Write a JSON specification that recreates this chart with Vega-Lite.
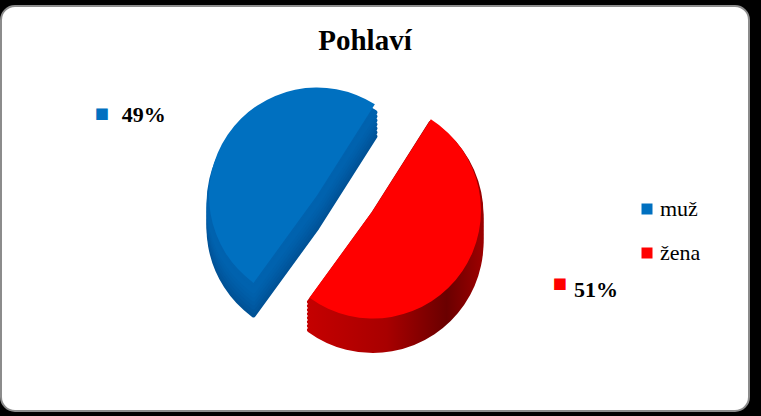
{
  "$schema": "https://vega.github.io/schema/vega-lite/v6.json",
  "width": 761,
  "height": 416,
  "autosize": {"type": "fit", "contains": "padding"},
  "padding": {"left": 1, "top": 6, "right": 12, "bottom": 5},
  "background": "black",
  "view": {"stroke": "#8c8c8c", "strokeWidth": 2, "cornerRadius": 14, "fill": "white"},
  "title": {
    "text": "Pohlaví",
    "font": "Liberation Serif",
    "fontSize": 29,
    "fontWeight": "bold",
    "color": "black",
    "offset": -50,
    "dx": -10
  },
  "data": {
    "values": [
      {"pohlavi": "muž", "podil": 0.49},
      {"pohlavi": "žena", "podil": 0.51}
    ]
  },
  "encoding": {
    "theta": {
      "field": "podil",
      "type": "quantitative",
      "stack": true,
      "scale": {"range": [3.7699, 10.0531]}
    },
    "detail": {"field": "pohlavi", "type": "nominal"}
  },
  "layer": [
    {"mark": {"type": "arc", "xOffset": -58, "yOffset": 19, "color": "#005296", "stroke": "#005296"},
     "encoding": {"opacity": {"condition": {"test": "datum.pohlavi === 'muž'", "value": 1}, "value": 0}}},
    {"mark": {"type": "arc", "xOffset": -58, "yOffset": 15, "color": "#00559b", "stroke": "#00559b"},
     "encoding": {"opacity": {"condition": {"test": "datum.pohlavi === 'muž'", "value": 1}, "value": 0}}},
    {"mark": {"type": "arc", "xOffset": -58, "yOffset": 11, "color": "#0058a0", "stroke": "#0058a0"},
     "encoding": {"opacity": {"condition": {"test": "datum.pohlavi === 'muž'", "value": 1}, "value": 0}}},
    {"mark": {"type": "arc", "xOffset": -58, "yOffset": 7, "color": "#005ba4", "stroke": "#005ba4"},
     "encoding": {"opacity": {"condition": {"test": "datum.pohlavi === 'muž'", "value": 1}, "value": 0}}},
    {"mark": {"type": "arc", "xOffset": -58, "yOffset": 3, "color": "#005ea8", "stroke": "#005ea8"},
     "encoding": {"opacity": {"condition": {"test": "datum.pohlavi === 'muž'", "value": 1}, "value": 0}}},
    {"mark": {"type": "arc", "xOffset": -58, "yOffset": -1, "color": "#0060ab", "stroke": "#0060ab"},
     "encoding": {"opacity": {"condition": {"test": "datum.pohlavi === 'muž'", "value": 1}, "value": 0}}},
    {"mark": {"type": "arc", "xOffset": -58, "yOffset": -5, "color": "#0062ae", "stroke": "#0062ae"},
     "encoding": {"opacity": {"condition": {"test": "datum.pohlavi === 'muž'", "value": 1}, "value": 0}}},
    {
      "mark": {"type": "arc", "xOffset": -58, "yOffset": -13, "strokeWidth": 0},
      "encoding": {
        "color": {
          "field": "pohlavi",
          "type": "nominal",
          "scale": {"domain": ["muž", "žena"], "range": ["#0070c0", "#ff0000"]},
          "legend": {
            "title": null,
            "orient": "none",
            "legendX": 635,
            "legendY": 192,
            "symbolType": "square",
            "symbolSize": 121,
            "symbolStrokeWidth": 0,
            "labelFont": "Liberation Serif",
            "labelFontSize": 22,
            "labelColor": "black",
            "labelOffset": 2,
            "rowPadding": 22,
            "padding": 0
          }
        },
        "opacity": {"condition": {"test": "datum.pohlavi === 'muž'", "value": 1}, "value": 0}
      }
    },
    {"mark": {"type": "arc", "xOffset": -2, "yOffset": 34, "color": {"gradient": "linear", "stops": [{"offset": 0, "color": "#c40000"}, {"offset": 0.45, "color": "#a80000"}, {"offset": 0.8, "color": "#6a0000"}, {"offset": 1, "color": "#9a0000"}]}, "stroke": {"gradient": "linear", "stops": [{"offset": 0, "color": "#c40000"}, {"offset": 0.45, "color": "#a80000"}, {"offset": 0.8, "color": "#6a0000"}, {"offset": 1, "color": "#9a0000"}]}},
     "encoding": {"opacity": {"condition": {"test": "datum.pohlavi === 'žena'", "value": 1}, "value": 0}}},
    {"mark": {"type": "arc", "xOffset": -2, "yOffset": 30, "color": {"gradient": "linear", "stops": [{"offset": 0, "color": "#c40000"}, {"offset": 0.45, "color": "#a80000"}, {"offset": 0.8, "color": "#6a0000"}, {"offset": 1, "color": "#9a0000"}]}, "stroke": {"gradient": "linear", "stops": [{"offset": 0, "color": "#c40000"}, {"offset": 0.45, "color": "#a80000"}, {"offset": 0.8, "color": "#6a0000"}, {"offset": 1, "color": "#9a0000"}]}},
     "encoding": {"opacity": {"condition": {"test": "datum.pohlavi === 'žena'", "value": 1}, "value": 0}}},
    {"mark": {"type": "arc", "xOffset": -2, "yOffset": 26, "color": {"gradient": "linear", "stops": [{"offset": 0, "color": "#c40000"}, {"offset": 0.45, "color": "#a80000"}, {"offset": 0.8, "color": "#6a0000"}, {"offset": 1, "color": "#9a0000"}]}, "stroke": {"gradient": "linear", "stops": [{"offset": 0, "color": "#c40000"}, {"offset": 0.45, "color": "#a80000"}, {"offset": 0.8, "color": "#6a0000"}, {"offset": 1, "color": "#9a0000"}]}},
     "encoding": {"opacity": {"condition": {"test": "datum.pohlavi === 'žena'", "value": 1}, "value": 0}}},
    {"mark": {"type": "arc", "xOffset": -2, "yOffset": 22, "color": {"gradient": "linear", "stops": [{"offset": 0, "color": "#c40000"}, {"offset": 0.45, "color": "#a80000"}, {"offset": 0.8, "color": "#6a0000"}, {"offset": 1, "color": "#9a0000"}]}, "stroke": {"gradient": "linear", "stops": [{"offset": 0, "color": "#c40000"}, {"offset": 0.45, "color": "#a80000"}, {"offset": 0.8, "color": "#6a0000"}, {"offset": 1, "color": "#9a0000"}]}},
     "encoding": {"opacity": {"condition": {"test": "datum.pohlavi === 'žena'", "value": 1}, "value": 0}}},
    {"mark": {"type": "arc", "xOffset": -2, "yOffset": 18, "color": {"gradient": "linear", "stops": [{"offset": 0, "color": "#c40000"}, {"offset": 0.45, "color": "#a80000"}, {"offset": 0.8, "color": "#6a0000"}, {"offset": 1, "color": "#9a0000"}]}, "stroke": {"gradient": "linear", "stops": [{"offset": 0, "color": "#c40000"}, {"offset": 0.45, "color": "#a80000"}, {"offset": 0.8, "color": "#6a0000"}, {"offset": 1, "color": "#9a0000"}]}},
     "encoding": {"opacity": {"condition": {"test": "datum.pohlavi === 'žena'", "value": 1}, "value": 0}}},
    {"mark": {"type": "arc", "xOffset": -2, "yOffset": 14, "color": {"gradient": "linear", "stops": [{"offset": 0, "color": "#c40000"}, {"offset": 0.45, "color": "#a80000"}, {"offset": 0.8, "color": "#6a0000"}, {"offset": 1, "color": "#9a0000"}]}, "stroke": {"gradient": "linear", "stops": [{"offset": 0, "color": "#c40000"}, {"offset": 0.45, "color": "#a80000"}, {"offset": 0.8, "color": "#6a0000"}, {"offset": 1, "color": "#9a0000"}]}},
     "encoding": {"opacity": {"condition": {"test": "datum.pohlavi === 'žena'", "value": 1}, "value": 0}}},
    {"mark": {"type": "arc", "xOffset": -2, "yOffset": 10, "color": {"gradient": "linear", "stops": [{"offset": 0, "color": "#c40000"}, {"offset": 0.45, "color": "#a80000"}, {"offset": 0.8, "color": "#6a0000"}, {"offset": 1, "color": "#9a0000"}]}, "stroke": {"gradient": "linear", "stops": [{"offset": 0, "color": "#c40000"}, {"offset": 0.45, "color": "#a80000"}, {"offset": 0.8, "color": "#6a0000"}, {"offset": 1, "color": "#9a0000"}]}},
     "encoding": {"opacity": {"condition": {"test": "datum.pohlavi === 'žena'", "value": 1}, "value": 0}}},
    {"mark": {"type": "arc", "xOffset": -2, "yOffset": 6, "color": {"gradient": "linear", "stops": [{"offset": 0, "color": "#c40000"}, {"offset": 0.45, "color": "#a80000"}, {"offset": 0.8, "color": "#6a0000"}, {"offset": 1, "color": "#9a0000"}]}, "stroke": {"gradient": "linear", "stops": [{"offset": 0, "color": "#c40000"}, {"offset": 0.45, "color": "#a80000"}, {"offset": 0.8, "color": "#6a0000"}, {"offset": 1, "color": "#9a0000"}]}},
     "encoding": {"opacity": {"condition": {"test": "datum.pohlavi === 'žena'", "value": 1}, "value": 0}}},
    {
      "mark": {"type": "arc", "xOffset": -2, "yOffset": 2, "strokeWidth": 0},
      "encoding": {
        "color": {"field": "pohlavi", "type": "nominal"},
        "opacity": {"condition": {"test": "datum.pohlavi === 'žena'", "value": 1}, "value": 0}
      }
    },
    {
      "mark": {"type": "text", "radius": 190, "xOffset": -58, "yOffset": -13, "dx": -16, "dy": 26,
        "font": "Liberation Serif", "fontSize": 22, "fontWeight": "bold", "color": "black"},
      "encoding": {
        "text": {"field": "podil", "type": "quantitative", "format": ".0%"},
        "opacity": {"condition": {"test": "datum.pohlavi === 'muž'", "value": 1}, "value": 0}
      }
    },
    {
      "mark": {"type": "text", "radius": 190, "xOffset": -58, "yOffset": -13, "dx": -58, "dy": 24,
        "text": "■", "font": "DejaVu Sans", "fontSize": 15, "color": "#0070c0"},
      "encoding": {
        "opacity": {"condition": {"test": "datum.pohlavi === 'muž'", "value": 1}, "value": 0}
      }
    },
    {
      "mark": {"type": "text", "radius": 220, "xOffset": -2, "yOffset": 2, "dx": 41, "dy": -44,
        "font": "Liberation Serif", "fontSize": 22, "fontWeight": "bold", "color": "black"},
      "encoding": {
        "text": {"field": "podil", "type": "quantitative", "format": ".0%"},
        "opacity": {"condition": {"test": "datum.pohlavi === 'žena'", "value": 1}, "value": 0}
      }
    },
    {
      "mark": {"type": "text", "radius": 220, "xOffset": -2, "yOffset": 2, "dx": 5, "dy": -51,
        "text": "■", "font": "DejaVu Sans", "fontSize": 15, "color": "#ff0000"},
      "encoding": {
        "opacity": {"condition": {"test": "datum.pohlavi === 'žena'", "value": 1}, "value": 0}
      }
    }
  ],
  "config": {
    "arc": {"radius": 108, "strokeWidth": 5, "strokeJoin": "round"}
  }
}
